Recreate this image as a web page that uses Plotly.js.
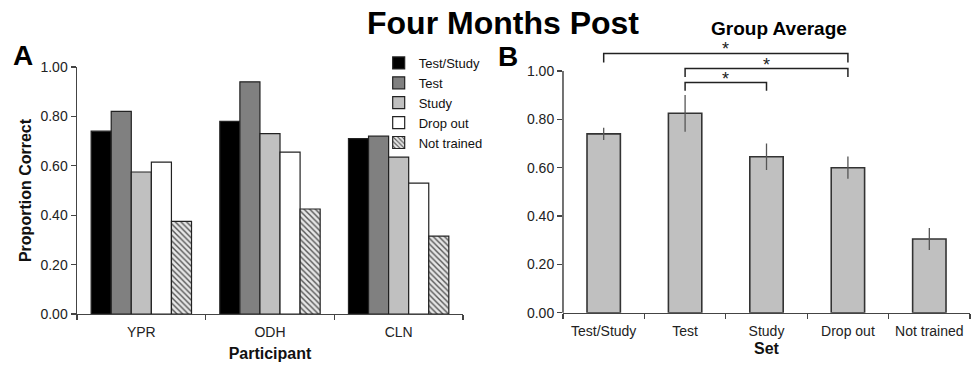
<!DOCTYPE html>
<html>
<head>
<meta charset="utf-8">
<script src="https://cdn.plot.ly/plotly-3.0.1.min.js"></script>
<style>html,body{margin:0;padding:0;background:#fff;}#chart{width:971px;height:366px;}</style>
</head>
<body>
<div id="chart"></div>
<script>
// ---- Data ----
const participants = ["YPR", "ODH", "CLN"];
const setNames = ["Test/Study", "Test", "Study", "Drop out", "Not trained"];
const testStudyVals = [0.74, 0.78, 0.71];
const testVals = [0.82, 0.94, 0.72];
const studyVals = [0.575, 0.73, 0.635];
const dropOutVals = [0.615, 0.655, 0.53];
const notTrainedVals = [0.375, 0.425, 0.315];
const groupMeans = [0.74, 0.825, 0.645, 0.60, 0.305];
const groupErr = [0.025, 0.076, 0.055, 0.046, 0.046];
const yTicks = [0, 0.2, 0.4, 0.6, 0.8, 1.0];
// significance comparisons: [from category, to category, bracket height, leg bottom]
const sigPairs = [
  ["Test/Study", "Drop out", 1.073, 1.035],
  ["Test", "Drop out", 1.01, 0.975],
  ["Test", "Study", 0.952, 0.918]
];

const FONT = "Liberation Sans, Arial, sans-serif";
const domAx = [0.0793, 0.4768], domAy = [0.1421, 0.8169];
const bMax = 1.12;
const domBx = [0.5798, 0.999], domBy = [0.1456, 0.8852];

const seriesA = [
  {name: setNames[0], y: testStudyVals, color: "#000000"},
  {name: setNames[1], y: testVals, color: "#808080"},
  {name: setNames[2], y: studyVals, color: "#c0c0c0"},
  {name: setNames[3], y: dropOutVals, color: "#ffffff"},
  {name: setNames[4], y: notTrainedVals, color: "#d8d8d8", pattern: true}
];

const traces = seriesA.map(s => ({
  type: "bar", x: participants, y: s.y, name: s.name, xaxis: "x", yaxis: "y",
  marker: {
    color: s.color,
    line: {color: "#222", width: 1.2},
    pattern: s.pattern ? {shape: "\\", fgcolor: "#555", bgcolor: "#e6e6e6", size: 4, solidity: 0.35} : undefined
  },
  hoverinfo: "x+y"
}));

traces.push({
  type: "bar", x: setNames, y: groupMeans, xaxis: "x2", yaxis: "y2", showlegend: false,
  width: 0.41,
  marker: {color: "#c0c0c0", line: {color: "#333", width: 1.6}},
  error_y: {type: "data", array: groupErr, visible: true, color: "#555", thickness: 1.3, width: 0}
});

const shapes = [];
const annotations = [];
sigPairs.forEach(p => {
  const [a, b, h, low] = p;
  const ia = setNames.indexOf(a), ib = setNames.indexOf(b);
  shapes.push({type: "path", xref: "x2", yref: "y2",
    path: `M${ia},${low} L${ia},${h} L${ib},${h} L${ib},${low}`,
    line: {color: "#222", width: 1.5}});
  annotations.push({xref: "x2", yref: "y2", x: (ia + ib) / 2, y: h, xanchor: "center", yanchor: "bottom",
    text: "*", showarrow: false, font: {family: FONT, size: 18, color: "#222"}, yshift: -8});
});
// y-axis line for panel B (only from 0 to 1.00)
const yTopPaper = domBy[0] + (1.0 / bMax) * (domBy[1] - domBy[0]);
shapes.push({type: "line", xref: "paper", yref: "paper", x0: domBx[0], x1: domBx[0],
  y0: domBy[0], y1: yTopPaper, line: {color: "#444", width: 1.5}});

annotations.push(
  {xref: "paper", yref: "paper", x: 0.5185, y: 0.993, xanchor: "center", yanchor: "top", showarrow: false,
   text: "<b>Four Months Post</b>", font: {family: FONT, size: 32, color: "#000"}},
  {xref: "paper", yref: "paper", x: 0.802, y: 0.955, xanchor: "center", yanchor: "top", showarrow: false,
   text: "<b>Group Average</b>", font: {family: FONT, size: 19, color: "#000"}},
  {xref: "paper", yref: "paper", x: 0.024, y: 0.848, xanchor: "center", yanchor: "middle", showarrow: false,
   text: "<b>A</b>", font: {family: FONT, size: 28, color: "#000"}},
  {xref: "paper", yref: "paper", x: 0.523, y: 0.845, xanchor: "center", yanchor: "middle", showarrow: false,
   text: "<b>B</b>", font: {family: FONT, size: 28, color: "#000"}}
);

const axCommon = {
  showline: true, linecolor: "#444", linewidth: 1.5, ticks: "outside", ticklen: 5,
  tickcolor: "#444", tickwidth: 1.3, showgrid: false, zeroline: false,
  tickfont: {family: FONT, size: 14, color: "#222"}
};

const layout = {
  width: 971, height: 366,
  margin: {l: 0, r: 0, t: 0, b: 0},
  paper_bgcolor: "#fff", plot_bgcolor: "#fff",
  barmode: "group", bargap: 0.22, bargroupgap: 0,
  font: {family: FONT, color: "#222"},
  showlegend: true,
  legend: {x: 0.39, y: 0.869, xanchor: "left", yanchor: "top", bgcolor: "rgba(0,0,0,0)",
    font: {family: FONT, size: 13, color: "#111"}, tracegroupgap: 0, itemwidth: 30},
  xaxis: Object.assign({}, axCommon, {domain: domAx, anchor: "y", type: "category",
    tickson: "boundaries", range: [-0.5, 2.5], ticklabelstandoff: 5,
    title: {text: "<b>Participant</b>", font: {family: FONT, size: 16, color: "#111"}, standoff: 8}}),
  yaxis: Object.assign({}, axCommon, {domain: domAy, anchor: "x", range: [0, 1],
    tickvals: yTicks, tickformat: ".2f",
    title: {text: "<b>Proportion Correct</b>", font: {family: FONT, size: 16, color: "#111"}, standoff: 5}}),
  xaxis2: Object.assign({}, axCommon, {domain: domBx, anchor: "y2", type: "category",
    tickson: "boundaries", range: [-0.5, 4.5], ticklabelstandoff: 5,
    title: {text: "<b>Set</b>", font: {family: FONT, size: 16, color: "#111"}, standoff: 5}}),
  yaxis2: Object.assign({}, axCommon, {domain: domBy, anchor: "x2", range: [0, bMax],
    showline: false, tickvals: yTicks, tickformat: ".2f"}),
  shapes: shapes,
  annotations: annotations
};

Plotly.newPlot("chart", traces, layout, {displayModeBar: false, staticPlot: true});
</script>
</body>
</html>
